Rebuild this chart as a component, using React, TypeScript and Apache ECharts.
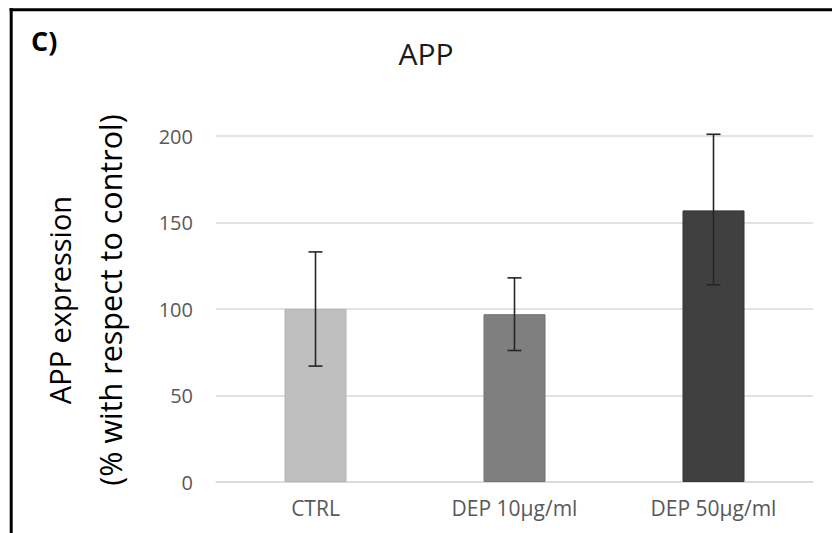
import React, { useEffect, useRef } from "react";
import * as echarts from "echarts";

const categories = ["CTRL", "DEP 10µg/ml", "DEP 50µg/ml"];
const means = [100, 97, 157];
const errLow = [67, 76, 114];
const errHigh = [133, 118, 201];
const barColors = ["#bfbfbf", "#7f7f7f", "#404040"];
const barBorders = ["#b5b5b5", "#737373", "#333333"];
const yTicks = { min: 0, max: 200, interval: 50 };
const titleText = "APP";
const panelLabel = "C)";
const yNameLine1 = "APP expression";
const yNameLine2 = "(% with respect to control)";

const FONT = "'Open Sans', 'Noto Sans', sans-serif";

export default function App() {
  const ref = useRef<HTMLDivElement>(null);

  useEffect(() => {
    if (!ref.current) return;
    const chart = echarts.init(ref.current, null, { renderer: "svg" });

    const option = {
      animation: false,
      backgroundColor: "#ffffff",
      textStyle: { fontFamily: FONT },
      grid: { left: 216, right: 19, top: 136, bottom: 51, containLabel: false },
      xAxis: {
        type: "category",
        data: categories,
        axisTick: { show: false },
        axisLine: { show: true, lineStyle: { color: "#d9d9d9", width: 1.5 } },
        axisLabel: { color: "#595959", fontSize: 21, margin: 15, fontFamily: FONT },
      },
      yAxis: {
        type: "value",
        min: yTicks.min,
        max: yTicks.max,
        interval: yTicks.interval,
        axisLine: { show: false },
        axisTick: { show: false },
        splitLine: { lineStyle: { color: "#d9d9d9", width: 1.5 } },
        axisLabel: { color: "#595959", fontSize: 20, margin: 23, fontFamily: FONT },
      },
      graphic: [
        {
          type: "line",
          shape: { x1: 9.5, y1: 9.7, x2: 832, y2: 9.7 },
          style: { stroke: "#000000", lineWidth: 3 },
        },
        {
          type: "line",
          shape: { x1: 11.2, y1: 8.2, x2: 11.2, y2: 533 },
          style: { stroke: "#000000", lineWidth: 3 },
        },
        {
          type: "text",
          x: 31,
          y: 40,
          style: {
            text: panelLabel,
            fontSize: 27,
            fontWeight: "bold",
            fontFamily: FONT,
            fill: "#000000",
            textAlign: "left",
            textVerticalAlign: "middle",
          },
        },
        {
          type: "text",
          x: 426,
          y: 53,
          style: {
            text: titleText,
            fontSize: 30,
            fontFamily: FONT,
            fill: "#1a1a1a",
            textAlign: "center",
            textVerticalAlign: "middle",
          },
        },
        {
          type: "text",
          x: 59,
          y: 300,
          rotation: Math.PI / 2,
          style: {
            text: yNameLine1,
            fontSize: 29,
            fontFamily: FONT,
            fill: "#000000",
            textAlign: "center",
            textVerticalAlign: "middle",
          },
        },
        {
          type: "text",
          x: 110,
          y: 300,
          rotation: Math.PI / 2,
          style: {
            text: yNameLine2,
            fontSize: 30.5,
            fontFamily: FONT,
            fill: "#000000",
            textAlign: "center",
            textVerticalAlign: "middle",
          },
        },
      ],
      series: [
        {
          type: "bar",
          barWidth: 62,
          data: means.map((v, i) => ({
            value: v,
            itemStyle: { color: barColors[i], borderColor: barBorders[i], borderWidth: 1 },
          })),
        },
        {
          type: "custom",
          data: errLow.map((lo, i) => [i, lo, errHigh[i]]),
          encode: { x: 0, y: [1, 2] },
          z: 5,
          renderItem: (params: any, api: any) => {
            const idx = api.value(0);
            const lo = api.coord([idx, api.value(1)]);
            const hi = api.coord([idx, api.value(2)]);
            const half = 7;
            const style = { stroke: "#262626", lineWidth: 1.6 };
            return {
              type: "group",
              children: [
                { type: "line", shape: { x1: hi[0], y1: hi[1], x2: lo[0], y2: lo[1] }, style },
                { type: "line", shape: { x1: hi[0] - half, y1: hi[1], x2: hi[0] + half, y2: hi[1] }, style },
                { type: "line", shape: { x1: lo[0] - half, y1: lo[1], x2: lo[0] + half, y2: lo[1] }, style },
              ],
            };
          },
        },
      ],
    };

    chart.setOption(option as any);
    return () => {
      chart.dispose();
    };
  }, []);

  return (
    <div
      ref={ref}
      style={{ position: "fixed", left: 0, top: 0, width: 832, height: 533, background: "#fff" }}
    />
  );
}
